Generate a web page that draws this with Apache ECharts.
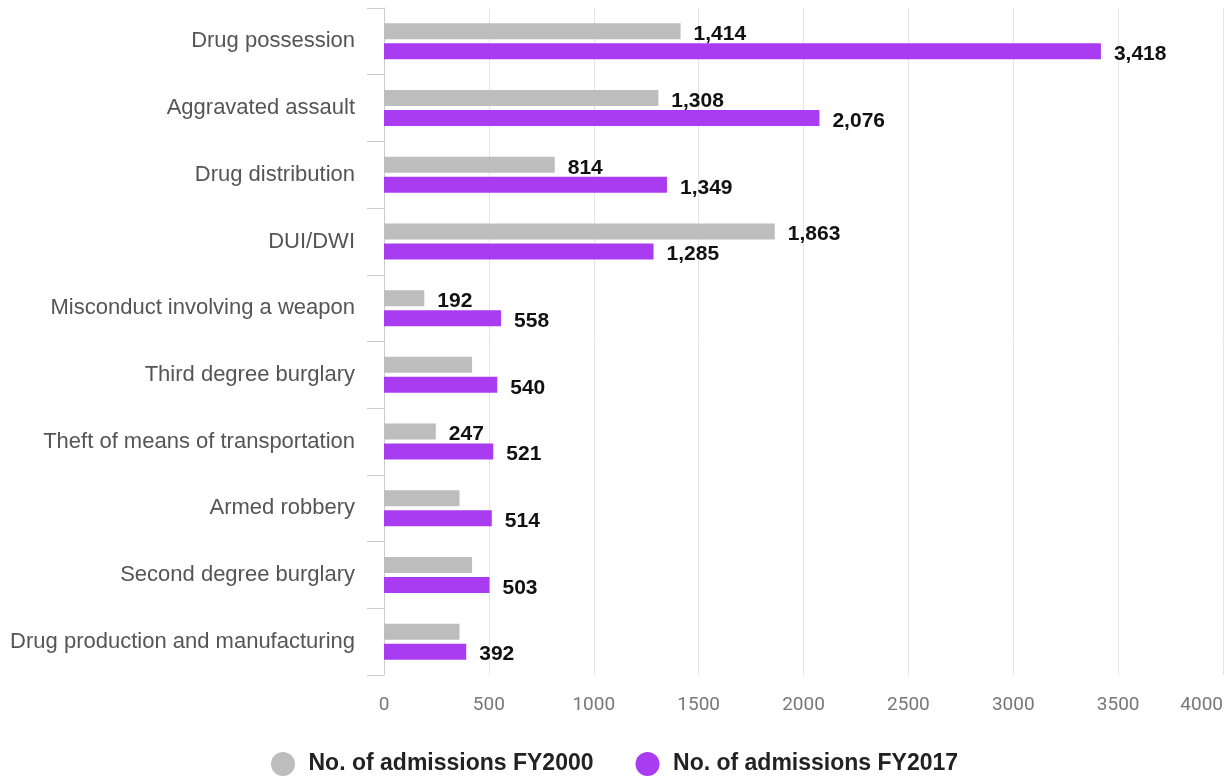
<!DOCTYPE html>
<html>
<head>
<meta charset="utf-8">
<script src="https://cdn.jsdelivr.net/npm/echarts@6/dist/echarts.min.js"></script>
<style>
html,body{margin:0;padding:0;background:#fff;}
#chart{width:1227px;height:776px;}
</style>
</head>
<body>
<div id="chart"></div>
<script>
const categories = [
  "Drug possession",
  "Aggravated assault",
  "Drug distribution",
  "DUI/DWI",
  "Misconduct involving a weapon",
  "Third degree burglary",
  "Theft of means of transportation",
  "Armed robbery",
  "Second degree burglary",
  "Drug production and manufacturing"
];
const fy2000 = [1414, 1308, 814, 1863, 192, 420, 247, 360, 420, 360];
const fy2000Labeled = [true, true, true, true, true, false, true, false, false, false];
const fy2017 = [3418, 2076, 1349, 1285, 558, 540, 521, 514, 503, 392];
const xTicks = { min: 0, max: 4000, interval: 500 };

const fmt = p => Number(p.value).toLocaleString('en-US');
const labelStyle = {
  show: true, position: 'right', distance: 13, offset: [0, 3],
  fontFamily: 'Liberation Sans', fontWeight: 'bold', fontSize: 21, color: '#111',
  formatter: fmt
};

const chart = echarts.init(document.getElementById('chart'), null, {renderer: 'canvas'});
chart.setOption({
  animation: false,
  textStyle: { fontFamily: 'Liberation Sans' },
  grid: { left: 384, right: 4, top: 8, bottom: 101, containLabel: false },
  legend: {
    left: 266, top: 747,
    icon: 'circle', itemWidth: 25, itemHeight: 24, itemGap: 42,
    textStyle: { fontFamily: 'Liberation Sans', fontWeight: 'bold', fontSize: 23, color: '#222', padding: [0, 0, 0, 8] }
  },
  xAxis: {
    type: 'value', min: xTicks.min, max: xTicks.max, interval: xTicks.interval,
    axisLine: { show: false }, axisTick: { show: false },
    splitLine: { show: true, lineStyle: { color: '#e4e4e4', width: 1 } },
    axisLabel: { margin: 21, fontFamily: 'Roboto', fontSize: 19, color: '#777', alignMaxLabel: 'right',
      formatter: v => String(v) }
  },
  yAxis: {
    type: 'category', data: categories, inverse: true,
    axisLine: { show: true, lineStyle: { color: '#cccccc' } },
    axisTick: { show: true, length: 17, lineStyle: { color: '#cccccc' } },
    axisLabel: { margin: 29, fontFamily: 'Liberation Sans', fontSize: 22, color: '#555' }
  },
  series: [
    {
      name: 'No. of admissions FY2000', type: 'bar', barWidth: 16, barGap: '25%',
      itemStyle: { color: '#bdbdbd' },
      data: fy2000.map((v, i) => ({ value: v, label: Object.assign({}, labelStyle, { show: fy2000Labeled[i] }) })),
      label: labelStyle
    },
    {
      name: 'No. of admissions FY2017', type: 'bar', barWidth: 16,
      itemStyle: { color: '#a93cf0' },
      data: fy2017,
      label: labelStyle
    }
  ]
});
</script>
</body>
</html>
